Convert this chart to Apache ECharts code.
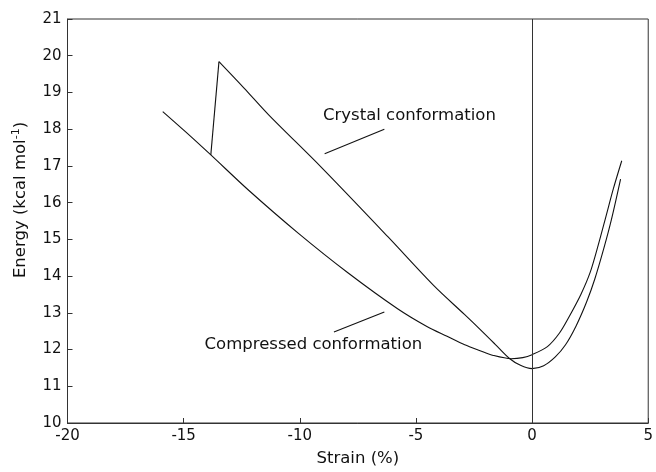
<!DOCTYPE html>
<html><head><meta charset="utf-8">
<script src="https://cdn.jsdelivr.net/npm/echarts@6/dist/echarts.min.js"></script>
<style>html,body{margin:0;padding:0;background:#fff}#c{width:656px;height:472px}</style>
</head><body><div id="c"></div>
<script>
// Strain (%) vs Energy (kcal/mol)
const compressed = [[-15.9,18.48],[-14.9,17.92],[-13.83,17.30],[-12.19,16.33],[-10.07,15.17],[-7.93,14.09],[-5.79,13.11],[-4.51,12.62],[-3.66,12.36],[-2.9,12.13],[-2.24,11.97],[-1.67,11.84],[-0.9,11.75],[-0.4,11.78],[0,11.86],[0.66,12.08],[1.18,12.45],[1.6,12.9],[2.1,13.5],[2.5,14.1],[2.85,14.85],[3.17,15.6],[3.5,16.38],[3.86,17.14]];
const crystalJump = [[-13.83,17.30],[-13.48,19.84]];
const crystal = [[-13.48,19.84],[-12.4,19.12],[-11.34,18.39],[-9.07,16.96],[-6.22,15.08],[-4.23,13.74],[-2.9,12.95],[-2.24,12.55],[-1.6,12.15],[-1.0,11.77],[-0.5,11.57],[0,11.48],[0.5,11.56],[1.0,11.80],[1.44,12.13],[1.9,12.65],[2.35,13.3],[2.7,13.92],[3.1,14.78],[3.42,15.55],[3.81,16.64]];
const crystalLeader = [[-8.93,17.33],[-6.36,18.0]];
const compressedLeader = [[-8.53,12.48],[-6.36,13.02]];
const labelCrystal = {pos:[-9.0,18.38], text:'Crystal conformation'};
const labelCompressed = {pos:[-4.73,12.13], text:'Compressed conformation'};
const xTicks = [-20,-15,-10,-5,0,5];
const yTicks = [10,11,12,13,14,15,16,17,18,19,20,21];

const FONT = 'DejaVu Sans';
const ink = '#111';
const chart = echarts.init(document.getElementById('c'));
const lineStyle = {color: ink, width: 1.1};
function lineSeries(data, smooth){
  return {type:'line', data, smooth: smooth, showSymbol:false, symbol:'none', lineStyle, silent:true, animation:false};
}
chart.setOption({
  animation:false,
  grid:{left:67.5, right:3, top:19, bottom:43, show:true, borderColor:'#333', borderWidth:1},
  xAxis:{type:'value', min:xTicks[0], max:xTicks[xTicks.length-1], interval:5,
    axisLine:{show:true, onZero:false, lineStyle:{color:'#333'}},
    axisTick:{show:true, inside:true, length:5, lineStyle:{color:'#333'}},
    splitLine:{show:false},
    axisLabel:{fontFamily:FONT, fontSize:15, color:ink, margin:6},
    name:'Strain (%)', nameLocation:'middle', nameGap:27,
    nameTextStyle:{fontFamily:FONT, fontSize:16.5, color:ink, verticalAlign:'top'}
  },
  yAxis:{type:'value', min:yTicks[0], max:yTicks[yTicks.length-1], interval:1,
    axisLine:{show:true, onZero:false, lineStyle:{color:'#333'}},
    axisTick:{show:true, inside:true, length:5, lineStyle:{color:'#333'}},
    splitLine:{show:false},
    axisLabel:{fontFamily:FONT, fontSize:15, color:ink, margin:6}
  },
  series:[
    Object.assign(lineSeries(compressed, 0.3), {
      markLine:{silent:true, symbol:['none','none'], label:{show:false},
        lineStyle:{color:'#333', width:1, type:'solid'}, data:[{xAxis:0}]}
    }),
    lineSeries(crystalJump, false),
    lineSeries(crystal, 0.3),
    lineSeries(crystalLeader, false),
    lineSeries(compressedLeader, false)
  ]
});
const p1 = chart.convertToPixel({gridIndex:0}, labelCrystal.pos);
const p2 = chart.convertToPixel({gridIndex:0}, labelCompressed.pos);
chart.setOption({
  graphic:[
    {type:'text', x:p1[0], y:p1[1], style:{text:labelCrystal.text, fontFamily:FONT, fontSize:16.5, fill:ink, align:'left', verticalAlign:'middle'}},
    {type:'text', x:p2[0], y:p2[1], style:{text:labelCompressed.text, fontFamily:FONT, fontSize:16.5, fill:ink, align:'right', verticalAlign:'middle'}},
    {type:'text', x:21, y:200, rotation:Math.PI/2,
      style:{text:'Energy (kcal mol{sup|-1})', fontFamily:FONT, fontSize:16.5, fill:ink, align:'center', verticalAlign:'middle',
        rich:{sup:{fontFamily:FONT, fontSize:11, fill:ink, verticalAlign:'bottom', padding:[0,0,9,0]}}}}
  ]
});
</script></body></html>
